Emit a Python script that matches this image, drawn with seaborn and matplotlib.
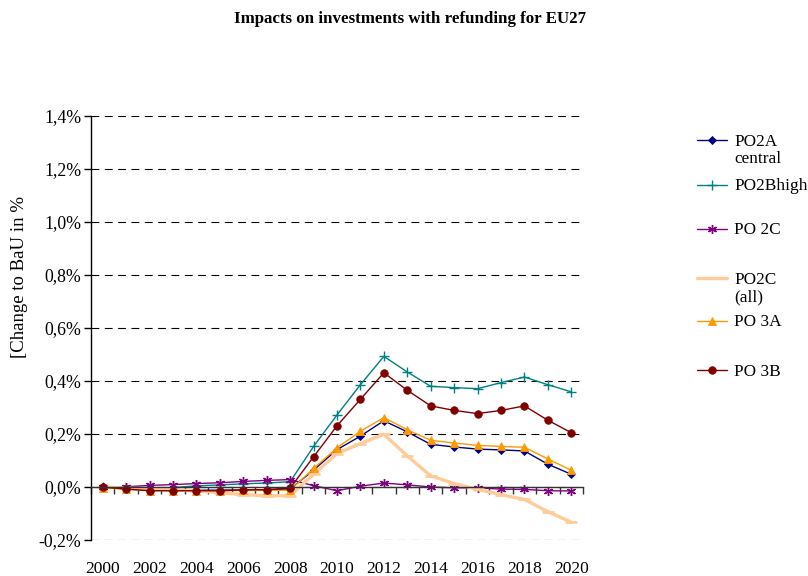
import numpy as np
import pandas as pd
import matplotlib
matplotlib.use("Agg")
import matplotlib.pyplot as plt
from matplotlib.ticker import FuncFormatter, FixedLocator
from matplotlib.lines import Line2D
import seaborn as sns

years = list(range(2000, 2021))

po2a_central = [0.000, -0.006, -0.012, -0.012, -0.012, -0.012, -0.011, -0.010, -0.008,
                0.064, 0.141, 0.192, 0.250, 0.208, 0.161, 0.151, 0.143, 0.140, 0.136, 0.086, 0.048]
po2b_high = [0.000, -0.004, -0.006, -0.002, 0.004, 0.008, 0.012, 0.015, 0.020,
             0.153, 0.272, 0.386, 0.493, 0.434, 0.380, 0.375, 0.371, 0.394, 0.415, 0.386, 0.359]
po2c = [0.000, 0.001, 0.006, 0.009, 0.013, 0.016, 0.021, 0.025, 0.028,
        0.005, -0.014, 0.003, 0.015, 0.008, 0.000, -0.003, -0.003, -0.008, -0.009, -0.014, -0.015]
po2c_all = [0.000, -0.004, -0.008, -0.010, -0.015, -0.021, -0.029, -0.033, -0.033,
            0.048, 0.126, 0.164, 0.199, 0.117, 0.042, 0.013, -0.009, -0.029, -0.047, -0.093, -0.133]
po3a = [-0.003, -0.008, -0.014, -0.014, -0.014, -0.014, -0.013, -0.013, -0.012,
        0.070, 0.148, 0.210, 0.262, 0.216, 0.176, 0.166, 0.157, 0.153, 0.150, 0.106, 0.063]
po3b = [0.000, -0.008, -0.014, -0.014, -0.014, -0.014, -0.011, -0.010, -0.004,
        0.114, 0.231, 0.331, 0.431, 0.365, 0.306, 0.289, 0.277, 0.289, 0.306, 0.252, 0.205]

series_names = ["PO2A\ncentral", "PO2Bhigh", "PO 2C", "PO2C\n(all)", "PO 3A", "PO 3B"]
series_values = [po2a_central, po2b_high, po2c, po2c_all, po3a, po3b]
y_ticks = [-0.2, 0.0, 0.2, 0.4, 0.6, 0.8, 1.0, 1.2, 1.4]

styles = {
    "PO2A\ncentral": dict(color="#000080", marker="D", ms=3.8, lw=1.0, mew=0.6),
    "PO2Bhigh": dict(color="#008080", marker="+", ms=7, lw=1.0, mew=1.0),
    "PO 2C": dict(color="#800080", marker=(6, 2, 0), ms=6.5, lw=1.0, mew=1.0),
    "PO2C\n(all)": dict(color="#FFCC99", marker="_", ms=8, lw=2.4, mew=2.0),
    "PO 3A": dict(color="#FF9900", marker="^", ms=6.3, lw=1.0, mew=0.6),
    "PO 3B": dict(color="#800000", marker="o", ms=5.4, lw=1.0, mew=0.6),
}

sns.set_theme(style="white")
plt.rcParams["font.family"] = ["Liberation Serif", "DejaVu Serif"]

W, H = 808, 576
fig = plt.figure(figsize=(W / 100, H / 100), dpi=100)
ax = fig.add_axes([91 / W, 1 - 540 / H, 492 / W, 424 / H])

for name, vals in zip(series_names, series_values):
    st = styles[name]
    df = pd.DataFrame({"year": years, "value": vals})
    sns.lineplot(data=df, x="year", y="value", ax=ax, color=st["color"],
                 marker=st["marker"], markersize=st["ms"], linewidth=st["lw"],
                 markeredgewidth=st["mew"], markeredgecolor=st["color"],
                 legend=False)

ax.set_xlim(years[0] - 0.5, years[-1] + 0.5)
ax.set_ylim(y_ticks[0], y_ticks[-1])

# y axis
ax.set_yticks(y_ticks)
ax.yaxis.set_major_formatter(FuncFormatter(lambda v, p: f"{v:.1f}%".replace(".", ",")))
ax.tick_params(axis="y", which="major", direction="out", length=5, width=1,
               color="black", labelsize=12.8, pad=2, left=True, labelcolor="black")
ax.grid(axis="y", color="black", linestyle=(0, (7, 5)), linewidth=0.8)
ax.grid(axis="x", visible=False)

# x axis runs along zero, labels sit below the plot
ax.spines["bottom"].set_position(("data", 0))
ax.spines["bottom"].set_color("#333333")
ax.spines["bottom"].set_linewidth(1.0)
ax.spines["left"].set_color("black")
ax.spines["left"].set_linewidth(1.0)
ax.spines["top"].set_visible(False)
ax.spines["right"].set_visible(False)
ax.set_xticks(years[::2])
ax.set_xticklabels([str(y) for y in years[::2]])
ax.xaxis.set_minor_locator(FixedLocator([y - 0.5 for y in years] + [years[-1] + 0.5]))
ax.tick_params(axis="x", which="major", length=0, labelsize=12.5, pad=53.5,
               bottom=True, labelcolor="black")
ax.tick_params(axis="x", which="minor", direction="out", length=5, width=1,
               color="#333333", bottom=True)

ax.set_xlabel("")
ax.set_ylabel("[Change to BaU in %", fontsize=13.5, color="black")
ax.yaxis.set_label_coords(-0.128, 0.62)

# legend drawn beside the plot: handle line with marker, label whose first line sits on the handle
legend_rows = [140, 185, 229, 278, 321, 370]
for name, row in zip(series_names, legend_rows):
    st = styles[name]
    yf = 1 - row / H
    fig.add_artist(Line2D([697 / W, 727 / W], [yf, yf], transform=fig.transFigure,
                          color=st["color"], linewidth=st["lw"]))
    fig.add_artist(Line2D([712 / W], [yf], transform=fig.transFigure, linestyle="none",
                          color=st["color"], marker=st["marker"], markersize=st["ms"],
                          markeredgewidth=st["mew"], markeredgecolor=st["color"]))
    fig.text(734 / W, 1 - (row - 6.5) / H, name, ha="left", va="top", fontsize=12.4,
             color="black", linespacing=1.15)

fig.text(0.507, 0.967, "Impacts on investments with refunding for EU27",
         ha="center", va="center", fontsize=12.2, fontweight="bold", color="black")

fig.savefig("out.png", dpi=100)
